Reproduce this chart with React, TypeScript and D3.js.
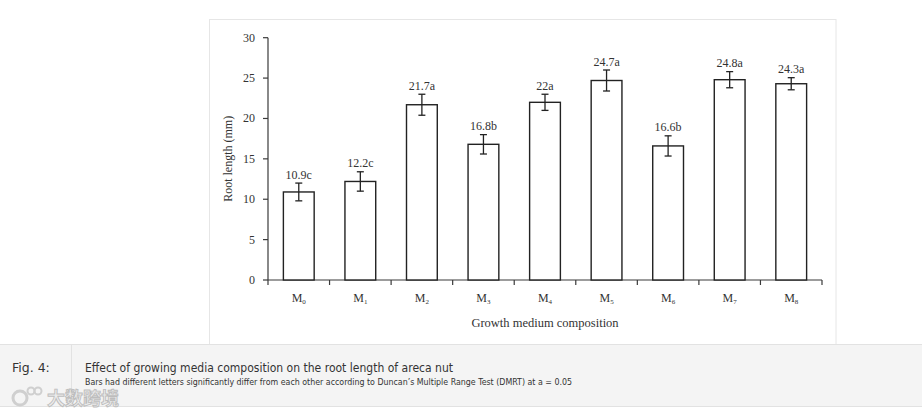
import React from "react";
import * as d3 from "d3";

const categories = ["0", "1", "2", "3", "4", "5", "6", "7", "8"];
const values = [10.9, 12.2, 21.7, 16.8, 22, 24.7, 16.6, 24.8, 24.3];
const errors = [1.1, 1.2, 1.3, 1.2, 1.0, 1.3, 1.25, 1.0, 0.75];
const letters = ["c", "c", "a", "b", "a", "a", "b", "a", "a"];
const yTicks = [0, 5, 10, 15, 20, 25, 30];

const W = 922;
const H = 417;
const serif = "'Liberation Serif', 'Times New Roman', serif";
const sans = "Tahoma, 'DejaVu Sans', 'Open Sans', sans-serif";

export default function App() {
  const x0 = 268, x1 = 822, y0 = 280, y1 = 37.7;
  const x = d3.scaleBand<string>().domain(categories).range([x0, x1]).paddingInner(0.5).paddingOuter(0.25);
  const y = d3.scaleLinear().domain([0, 30]).range([y0, y1]);
  const step = (x1 - x0) / categories.length;
  const axisColor = "#3a3a3a";

  return (
    <div style={{ position: "absolute", left: 0, top: 0 }}>
      <svg width={W} height={H} style={{ display: "block" }}>
        <rect x={0} y={0} width={W} height={H} fill="#fff" />
        {/* figure frame */}
        <rect x={209.5} y={19.5} width={626.5} height={325} fill="#fff" stroke="#e6e6e6" strokeWidth={1} />
        {/* caption band */}
        <rect x={0} y={344} width={W} height={63} fill="#f4f4f4" />
        <line x1={0} x2={W} y1={344.5} y2={344.5} stroke="#e2e2e2" />
        <line x1={0} x2={W} y1={406.5} y2={406.5} stroke="#e2e2e2" />
        <line x1={71.5} x2={71.5} y1={345} y2={406} stroke="#e2e2e2" />
        <text x={12} y={372} fontFamily={sans} fontSize={12.5} fill="#333">Fig. 4:</text>
        <text x={85} y={372} fontFamily={sans} fontSize={12.5} fill="#333" textLength={368} lengthAdjust="spacingAndGlyphs">
          Effect of growing media composition on the root length of areca nut
        </text>
        <text x={85} y={385} fontFamily={sans} fontSize={8} fill="#333" textLength={487} lengthAdjust="spacingAndGlyphs">
          Bars had different letters significantly differ from each other according to Duncan’s Multiple Range Test (DMRT) at a = 0.05
        </text>
        {/* watermark */}
        <g>
          <circle cx={20} cy={398} r={7} fill="none" stroke="#cfcfcf" strokeWidth={3} />
          <circle cx={31} cy={391} r={3.5} fill="none" stroke="#cfcfcf" strokeWidth={2} />
          <circle cx={38} cy={391} r={3.5} fill="none" stroke="#cfcfcf" strokeWidth={2} />
          <text x={47} y={405} fontFamily="'Noto Sans CJK SC', sans-serif" fontSize={18} fontWeight={700} fill="#ececec" stroke="#bdbdbd" strokeWidth={0.9}>大数跨境</text>
        </g>

        {/* y axis */}
        <line x1={x0} x2={x0} y1={y1} y2={y0} stroke={axisColor} strokeWidth={1.2} />
        {yTicks.map((t) => (
          <g key={t}>
            <line x1={x0 - 5} x2={x0} y1={y(t)} y2={y(t)} stroke={axisColor} strokeWidth={1.2} />
            <text x={255} y={y(t) + 4} textAnchor="end" fontFamily={serif} fontSize={12} fill="#333">{t}</text>
          </g>
        ))}
        {/* x axis */}
        <line x1={x0} x2={x1} y1={y0} y2={y0} stroke={axisColor} strokeWidth={1.2} />
        {d3.range(categories.length + 1).map((i) => (
          <line key={i} x1={x0 + i * step} x2={x0 + i * step} y1={y0} y2={y0 + 5} stroke={axisColor} strokeWidth={1.2} />
        ))}
        {categories.map((c) => (
          <text key={c} x={(x(c) as number) + x.bandwidth() / 2} y={302} textAnchor="middle" fontFamily={serif} fontSize={12} fill="#333">
            M<tspan fontSize={7} dy={2}>{c}</tspan>
          </text>
        ))}

        {/* bars */}
        {categories.map((c, i) => {
          const bx = x(c) as number;
          const cx = bx + x.bandwidth() / 2;
          const top = y(values[i] + errors[i]);
          const bot = y(values[i] - errors[i]);
          return (
            <g key={c}>
              <rect x={bx} y={y(values[i])} width={x.bandwidth()} height={y0 - y(values[i])} fill="#fff" stroke="#222" strokeWidth={1.4} />
              <line x1={cx} x2={cx} y1={top} y2={bot} stroke="#222" strokeWidth={1.3} />
              <line x1={cx - 3.5} x2={cx + 3.5} y1={top} y2={top} stroke="#222" strokeWidth={1.3} />
              <line x1={cx - 3.5} x2={cx + 3.5} y1={bot} y2={bot} stroke="#222" strokeWidth={1.3} />
              <text x={cx} y={top - 4.5} textAnchor="middle" fontFamily={serif} fontSize={12} fill="#333">
                {`${values[i]}${letters[i]}`}
              </text>
            </g>
          );
        })}

        {/* axis titles */}
        <text transform={`translate(232, ${y(15)}) rotate(-90)`} textAnchor="middle" fontFamily={serif} fontSize={12} fill="#333">
          Root length (mm)
        </text>
        <text x={545} y={327} textAnchor="middle" fontFamily={serif} fontSize={12.5} fill="#333">
          Growth medium composition
        </text>
      </svg>
    </div>
  );
}
